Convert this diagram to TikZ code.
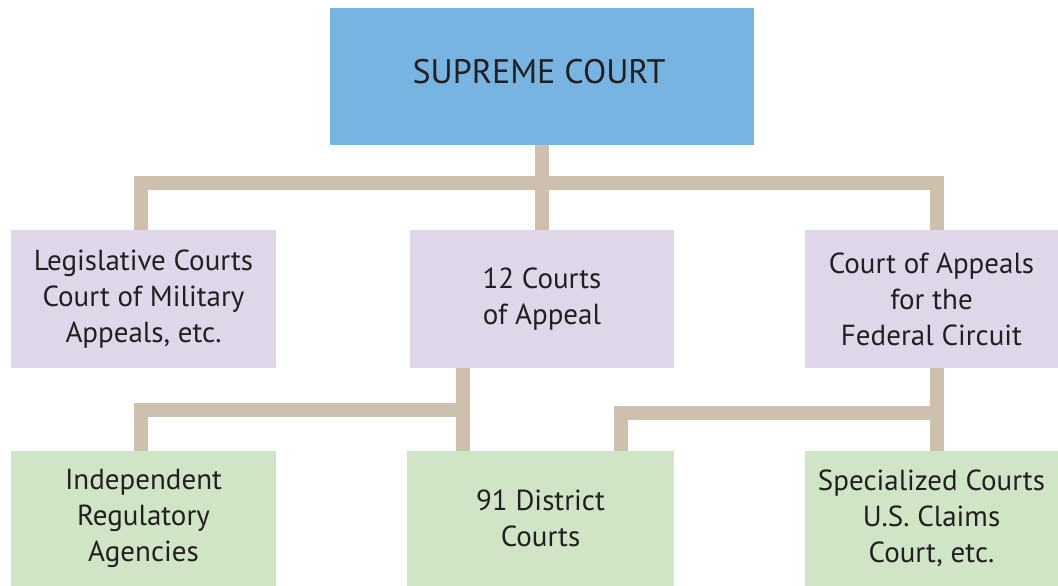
\documentclass[tikz,border=0pt]{standalone}
\usepackage{fontspec}
\setmainfont{PT Sans}
\usetikzlibrary{calc}

\definecolor{supblue}{HTML}{77B4E2}
\definecolor{midlilac}{HTML}{DFD6EA}
\definecolor{lowgreen}{HTML}{CFE5C6}
\definecolor{linkbeige}{HTML}{CDC0AD}
\definecolor{courtink}{HTML}{231F20}

\begin{document}
\begin{tikzpicture}[x=1pt,y=-1pt]
	\tikzset{court/.style={inner sep=0pt, align=center, text=courtink,
		font=\fontsize{29}{36}\selectfont}}
	\tikzset{midbox/.style={court, fill=midlilac, minimum height=138}}
	\tikzset{lowbox/.style={court, fill=lowgreen, minimum height=135}}
	\tikzset{link/.style={draw=linkbeige, line width=14}}
	\useasboundingbox (0,0) rectangle (1058,586);

	\node[court, fill=supblue, minimum width=424, minimum height=137] (sup) at (542,76.5) {};
	\node[court, font=\fontsize{34}{40}\selectfont] (suptext) at (539,72) {SUPREME COURT};

	\node[midbox, minimum width=265] (leg) at (143.5,299) {Legislative Courts\\Court of Military\\Appeals, etc.};
	\node[midbox, minimum width=264] (app) at (542,299) {12 Courts\\of Appeal};
	\node[midbox, minimum width=253] (fed) at (931.5,299) {Court of Appeals\\for the\\Federal Circuit};

	\node[lowbox, minimum width=265] (ind) at (143.5,518.5) {Independent\\Regulatory\\Agencies};
	\node[lowbox, minimum width=267] (dis) at (540.5,518.5) {91 District\\Courts};
	\node[lowbox, minimum width=253] (spe) at (931.5,518.5) {Specialized Courts\\U.S. Claims\\Court, etc.};

	\coordinate (tb) at (542,183);
	\coordinate (lb) at (463,410);
	\coordinate (rb) at (937,413);

	\draw[link] (sup) -- (app);
	\draw[link] ([xshift=-2.5]leg.north) |- (tb) -| ([xshift=5.5]fed.north);
	\draw[link] ([xshift=-79]app.south) -- ([xshift=-77.5]dis.north);
	\draw[link] (lb) -| ([xshift=-2.5]ind.north);
	\draw[link] ([xshift=5.5]fed.south) -- ([xshift=5.5]spe.north);
	\draw[link] (rb) -| ([xshift=80.5]dis.north);
\end{tikzpicture}
\end{document}
